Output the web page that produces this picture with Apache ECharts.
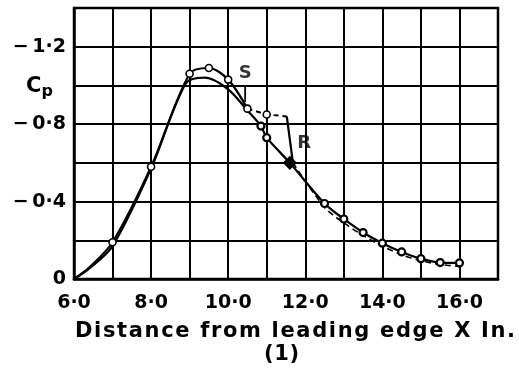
<!DOCTYPE html>
<html><head><meta charset="utf-8">
<script src="https://cdn.jsdelivr.net/npm/echarts@6/dist/echarts.min.js"></script>
<style>html,body{margin:0;padding:0;background:#fff}#c{width:519px;height:371px}</style>
</head><body><div id="c"></div>
<script>
// x ticks (in.) and Cp ticks
const xTicks = [6, 8, 10, 12, 14, 16];
const yTicks = [-1.2, -0.8, -0.4, 0];

// Curve A: upstream (solid, open circles)
const xA_up  = [6.0, 6.4, 7.0, 8.0, 9.0, 9.5, 10.0, 10.5];
const cpA_up = [0, -0.06, -0.19, -0.58, -1.06, -1.09, -1.03, -0.88];
const mkA_up = [0, 0, 1, 1, 1, 1, 1, 1];
// Curve A: separation bubble plateau S -> R (dashed)
const xA_bub  = [10.5, 11.0, 11.52];
const cpA_bub = [-0.88, -0.85, -0.84];
// Curve A: reattachment drop (solid)
const xA_drop  = [11.52, 11.68];
const cpA_drop = [-0.84, -0.60];
// Curve A: downstream (dashed)
const xA_dn  = [11.68, 12.5, 13.0, 13.5, 14.0, 14.5, 15.0, 15.5, 16.0];
const cpA_dn = [-0.60, -0.37, -0.29, -0.225, -0.17, -0.125, -0.095, -0.075, -0.065];

// Curve B: solid
const xB  = [6.0, 6.4, 7.0, 8.0, 8.9, 9.4, 10.0, 10.5, 10.85, 11.0, 11.6, 12.5, 13.0, 13.5, 14.0, 14.5, 15.0, 15.5, 16.0];
const cpB = [0, -0.055, -0.17, -0.57, -1.01, -1.04, -0.98, -0.87, -0.79, -0.73, -0.60, -0.39, -0.31, -0.24, -0.185, -0.14, -0.105, -0.085, -0.083];
const mkB = [0, 0, 0, 0, 0, 0, 0, 0, 1, 1, 2, 1, 1, 1, 1, 1, 1, 1, 1];

// Annotations
const noteText = ['S', 'R'];
const noteX = [10.44, 11.97];
const noteY = [-1.06, -0.70];
const sLeaderX = [10.44, 10.44];
const sLeaderY = [-1.0, -0.915];

const xTitle = 'Distance from leading edge X In.';
const subTitle = '(1)';

const F = 'DejaVu Sans';
const TS = '\u2009';
function fmt(v){ return (v < 0 ? '\u2212' + TS : '') + Math.abs(v).toFixed(1).replace('.', '\u00b7'); }
function pts(xs, ys, mk){
  return xs.map((x,i)=>{
    const m = mk ? mk[i] : 0;
    const o = {value:[x, ys[i]]};
    if (!m) o.symbol = 'none';
    else if (m === 2) { o.symbol = 'diamond'; o.symbolSize = 11; o.itemStyle = {color:'#000'}; }
    return o;
  });
}
// letter-spaced text laid out across a given width
function spacedText(str, x0, x1, y, size){
  const ctx = document.createElement('canvas').getContext('2d');
  ctx.font = 'bold ' + size + 'px "' + F + '"';
  const chars = str.split('');
  const ws = chars.map(c=>ctx.measureText(c).width);
  const tot = ws.reduce((a,b)=>a+b,0);
  const gap = (x1 - x0 - tot) / (chars.length - 1);
  let x = x0; const out = [];
  chars.forEach((c,i)=>{
    if (c !== ' ') out.push({type:'text', x:x, y:y, silent:true, style:{text:c, fontFamily:F, fontWeight:'bold', fontSize:size, fill:'#000', align:'left', verticalAlign:'middle'}});
    x += ws[i] + gap;
  });
  return out;
}
const lineBase = {type:'line', symbol:'circle', symbolSize:7, showSymbol:true,
  itemStyle:{color:'#fff', borderColor:'#000', borderWidth:1.6}, lineStyle:{color:'#000', width:2.2}, z:5, animation:false};

const chart = echarts.init(document.getElementById('c'), null, {renderer:'canvas'});
chart.setOption({
  animation:false,
  grid:{left:74, right:21, top:8, bottom:92, show:true, borderColor:'#000', borderWidth:2.5, backgroundColor:'transparent'},
  xAxis:{type:'value', min:6, max:17, interval:1,
    axisLine:{show:true, lineStyle:{color:'#000', width:2.5}}, axisTick:{show:false},
    splitLine:{show:true, lineStyle:{color:'#000', width:2}},
    axisLabel:{margin:15, color:'#000', fontFamily:F, fontWeight:'bold', fontSize:19,
      formatter:v=> xTicks.some(t=>Math.abs(t-v)<1e-6) ? fmt(v) : ''}},
  yAxis:{type:'value', min:-1.4, max:0, interval:0.2, inverse:true,
    axisLine:{show:true, lineStyle:{color:'#000', width:2.5}}, axisTick:{show:false},
    splitLine:{show:true, lineStyle:{color:'#000', width:2}},
    axisLabel:{margin:8, color:'#000', fontFamily:F, fontWeight:'bold', fontSize:19,
      formatter:v=> yTicks.some(t=>Math.abs(t-v)<1e-6) ? (Math.abs(v)<1e-6 ? '0' : fmt(v)) : ''}},
  series:[
    Object.assign({}, lineBase, {name:'A up', smooth:0.3, data:pts(xA_up, cpA_up, mkA_up)}),
    Object.assign({}, lineBase, {name:'A bubble', lineStyle:{color:'#000', width:2, type:[5,4]}, data:pts(xA_bub, cpA_bub, [0,1,0])}),
    Object.assign({}, lineBase, {name:'A drop', data:pts(xA_drop, cpA_drop, null)}),
    Object.assign({}, lineBase, {name:'A down', smooth:0.3, lineStyle:{color:'#000', width:1.6, type:[6,4]}, data:pts(xA_dn, cpA_dn, null)}),
    Object.assign({}, lineBase, {name:'B', smooth:0.3, itemStyle:{color:'#fff', borderColor:'#000', borderWidth:2.2}, data:pts(xB, cpB, mkB)}),
    Object.assign({}, lineBase, {name:'S leader', lineStyle:{color:'#000', width:1.8}, data:pts(sLeaderX, sLeaderY, null)}),
    {type:'scatter', symbolSize:0, silent:true, z:6,
      data:noteText.map((t,i)=>({value:[noteX[i], noteY[i]], name:t})),
      label:{show:true, position:'inside', formatter:p=>p.name, color:'#000', fontFamily:F, fontWeight:'bold', fontSize:18}}
  ],
  graphic:[
    {type:'text', left:26, top:76, style:{rich:{c:{fontFamily:F, fontWeight:'bold', fontSize:21, fill:'#000'}, p:{fontFamily:F, fontWeight:'bold', fontSize:16, fill:'#000', padding:[10,0,0,0]}}, text:'{c|C}{p|p}'}}
  ].concat(spacedText(xTitle, 75, 515, 332, 21), spacedText(subTitle, 264, 299, 355, 21))
});
</script></body></html>
